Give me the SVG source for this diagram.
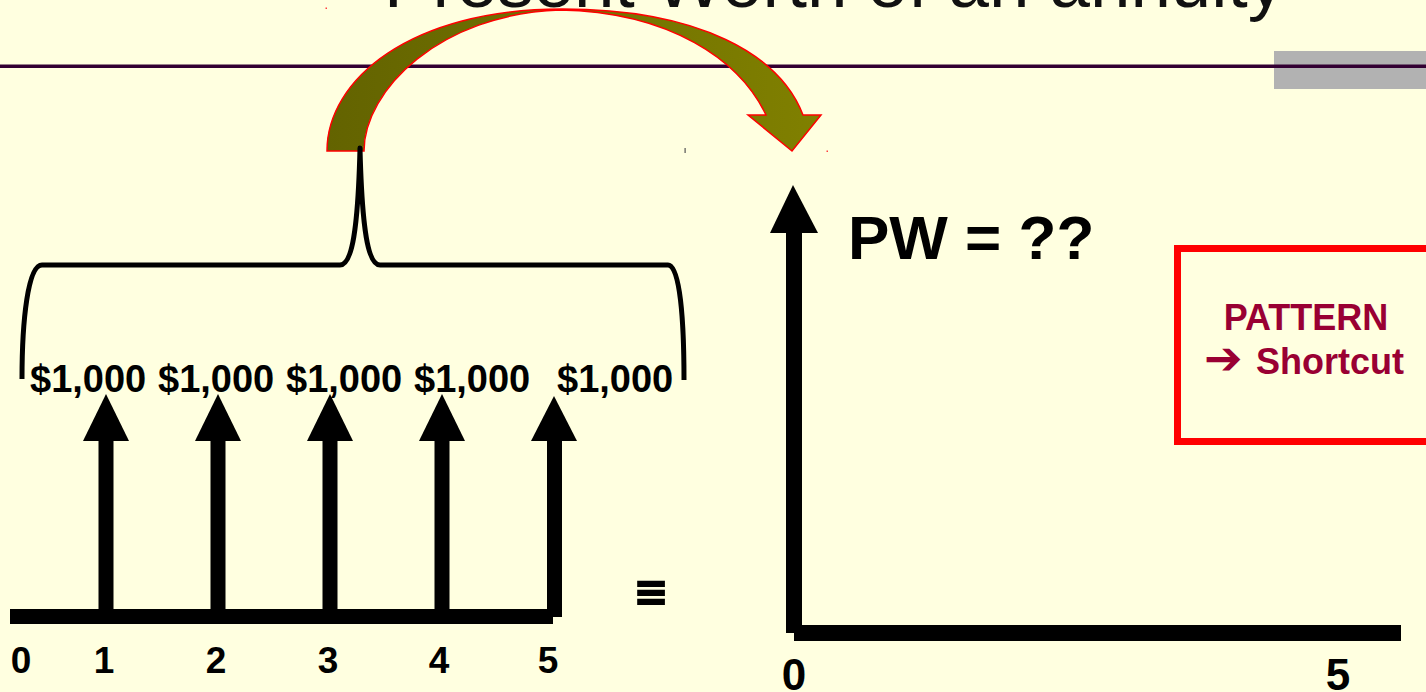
<svg xmlns="http://www.w3.org/2000/svg" width="1426" height="692" viewBox="0 0 1426 692">
<defs>
<style>
.bold{font-family:"Liberation Sans",Arial,sans-serif;font-weight:bold;fill:#000}
.amt{font-size:38px}
.num{font-size:37px;text-anchor:middle}
.pat{font-family:"Liberation Sans",Arial,sans-serif;font-weight:bold;font-size:36px;fill:#990033}
.blk{fill:#000}
</style>
<linearGradient id="olive" x1="327" y1="0" x2="821" y2="0" gradientUnits="userSpaceOnUse">
<stop offset="0" stop-color="#636300"/>
<stop offset="1" stop-color="#808000"/>
</linearGradient>
<g id="upArrow">
<polygon points="0,0 -23,47 23,47"/>
<rect x="-7.5" y="46" width="15" height="174"/>
</g>
</defs>
<rect width="1426" height="692" fill="#ffffe0"/>

<g id="title">
<text x="384" y="7" font-family="Liberation Sans,Arial,sans-serif" font-size="72" fill="#111" textLength="900" lengthAdjust="spacingAndGlyphs">Present Worth of an annuity</text>
</g>

<g id="header-bar">
<rect x="1274" y="51" width="152" height="38" fill="#b2b2b2"/>
<rect x="0" y="64.5" width="1426" height="3.5" fill="#330033"/>
</g>

<g id="artifacts">
<rect x="325.5" y="7.5" width="1.5" height="1.5" fill="#ff4040"/>
<rect x="684.5" y="148" width="1.2" height="5" fill="#555"/>
<rect x="826.5" y="150.5" width="1.5" height="1.5" fill="#ff4040"/>
</g>

<g id="connectors">
<path d="M 327 151 C 327 80, 410 9, 562 9 C 700 9, 780 55, 803 115 L 821 115 L 792 151 L 748 115 L 766 115 C 740 60, 670 12, 560 10 C 440 14, 364 90, 364 151 Z" fill="url(#olive)" stroke="#ff0000" stroke-width="1.5" stroke-linejoin="miter"/>
</g>

<g id="brace">
<path d="M 22 379 C 22 320, 28 265, 42 265 L 340 265 C 352 265, 358 230, 360 148 C 362 230, 368 265, 380 265 L 668 265 C 680 265, 684 320, 684 380" fill="none" stroke="#000" stroke-width="5" stroke-linejoin="round"/>
</g>

<g id="amounts" class="bold amt">
<text x="30" y="392">$1,000</text>
<text x="158" y="392">$1,000</text>
<text x="286" y="392">$1,000</text>
<text x="414" y="392">$1,000</text>
<text x="557" y="392">$1,000</text>
</g>

<g id="cashflow-diagram" class="blk">
<use href="#upArrow" x="106" y="394"/>
<use href="#upArrow" x="218" y="394"/>
<use href="#upArrow" x="330" y="394"/>
<use href="#upArrow" x="442" y="394"/>
<rect x="10" y="609" width="543" height="15"/>
<polygon points="554,396 531,441 577,441"/>
<rect x="547" y="440" width="15" height="177"/>
</g>

<g id="periods-left" class="bold num">
<text x="21" y="673">0</text>
<text x="104" y="673">1</text>
<text x="216" y="673">2</text>
<text x="328" y="673">3</text>
<text x="439" y="673">4</text>
<text x="548" y="673">5</text>
</g>

<g id="equivalent">
<text x="651" y="610" class="bold" font-size="52" text-anchor="middle" stroke="#000" stroke-width="2.5">≡</text>
</g>

<g id="pw-diagram" class="blk">
<polygon points="793,185 770,233 818,233"/>
<rect x="786" y="232" width="16" height="401"/>
<rect x="794" y="625" width="607" height="16"/>
</g>

<g id="pw-label">
<text x="848" y="259" class="bold" font-size="62">PW = ??</text>
</g>

<g id="periods-right" class="bold" font-size="44" text-anchor="middle">
<text x="794" y="690">0</text>
<text x="1338" y="690">5</text>
</g>

<g id="pattern-box">
<rect x="1177.5" y="248.5" width="300" height="193" fill="none" stroke="#ff0000" stroke-width="7"/>
<text x="1306" y="330" class="pat" text-anchor="middle">PATTERN</text>
<text x="1204" y="374" class="pat"><tspan font-family="DejaVu Sans,sans-serif" font-size="46">➔</tspan><tspan x="1256">Shortcut</tspan></text>
</g>
</svg>
